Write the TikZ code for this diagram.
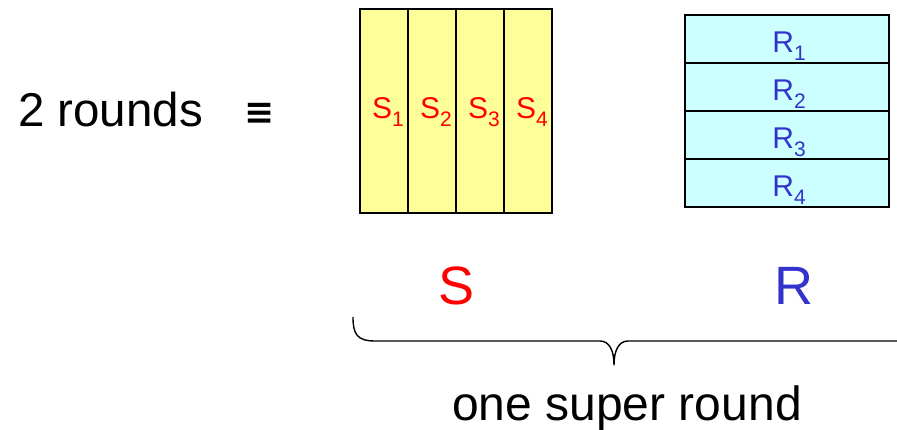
\documentclass[tikz,border=0pt]{standalone}
\usepackage{fontspec}
\setmainfont{Liberation Sans}
\newfontfamily\symfont{DejaVu Sans}
\definecolor{syel}{HTML}{FFFF99}
\definecolor{rcyan}{HTML}{CCFFFF}
\definecolor{sred}{HTML}{FF0000}
\definecolor{rblue}{HTML}{3333CC}
\newcommand{\lowsub}[1]{\raisebox{-0.27em}{\fontsize{21}{21}\selectfont #1}}
\tikzset{
  cell/.style={draw=black, line width=1.6pt, inner sep=0pt, outer sep=0pt},
  scell/.style={cell, fill=syel, minimum width=48pt, minimum height=204pt},
  rcell/.style={cell, fill=rcyan, minimum width=204pt, minimum height=48pt},
  slab/.style={text=sred, font=\fontsize{30}{30}\selectfont, inner sep=0pt, anchor=base},
  rlab/.style={text=rblue, font=\fontsize{30}{30}\selectfont, inner sep=0pt, anchor=base},
  bigtxt/.style={inner sep=0pt, anchor=base},
}
\begin{document}
\begin{tikzpicture}[x=1pt,y=-1pt]
\useasboundingbox (0,0) rectangle (897,429);
% S columns
\foreach \i/\x in {1/384,2/432,3/480,4/528}{
  \node[scell] (s\i) at (\x,111) {};
  \node[slab] (sl\i) at (\x+4,118) {S\lowsub{\i}};
}
% R rows
\foreach \i/\y in {1/39,2/87,3/135,4/183}{
  \node[rcell] (r\i) at (787,\y) {};
  \node[rlab] (rl\i) at (789,\y+13) {R\lowsub{\i}};
}
\node[bigtxt, anchor=base west, font=\fontsize{47.5}{47.5}\selectfont] (two) at (18,126) {2 rounds};
\node[inner sep=0pt, font=\symfont\fontsize{36}{36}\selectfont\bfseries] (eq) at (260,114) {≡};
\node[bigtxt, text=sred, font=\fontsize{54}{54}\selectfont] (S) at (457,304) {S};
\node[bigtxt, text=rblue, font=\fontsize{54}{54}\selectfont] (R) at (794,304) {R};
\node[bigtxt, font=\fontsize{48}{48}\selectfont] (osr) at (627,420) {one super round};
% brace
\coordinate (bl) at (353,317);
\coordinate (bm) at (614,365);
\coordinate (br) at (897,341);
\draw[line width=1.4pt, line join=round]
  (bl) .. controls (353,334) and (357,341) .. (375,341)
  -- (600,341) .. controls (609,341) and (614,350) .. (bm)
  .. controls (614,350) and (619,341) .. (628,341) -- (br);
\end{tikzpicture}
\end{document}
